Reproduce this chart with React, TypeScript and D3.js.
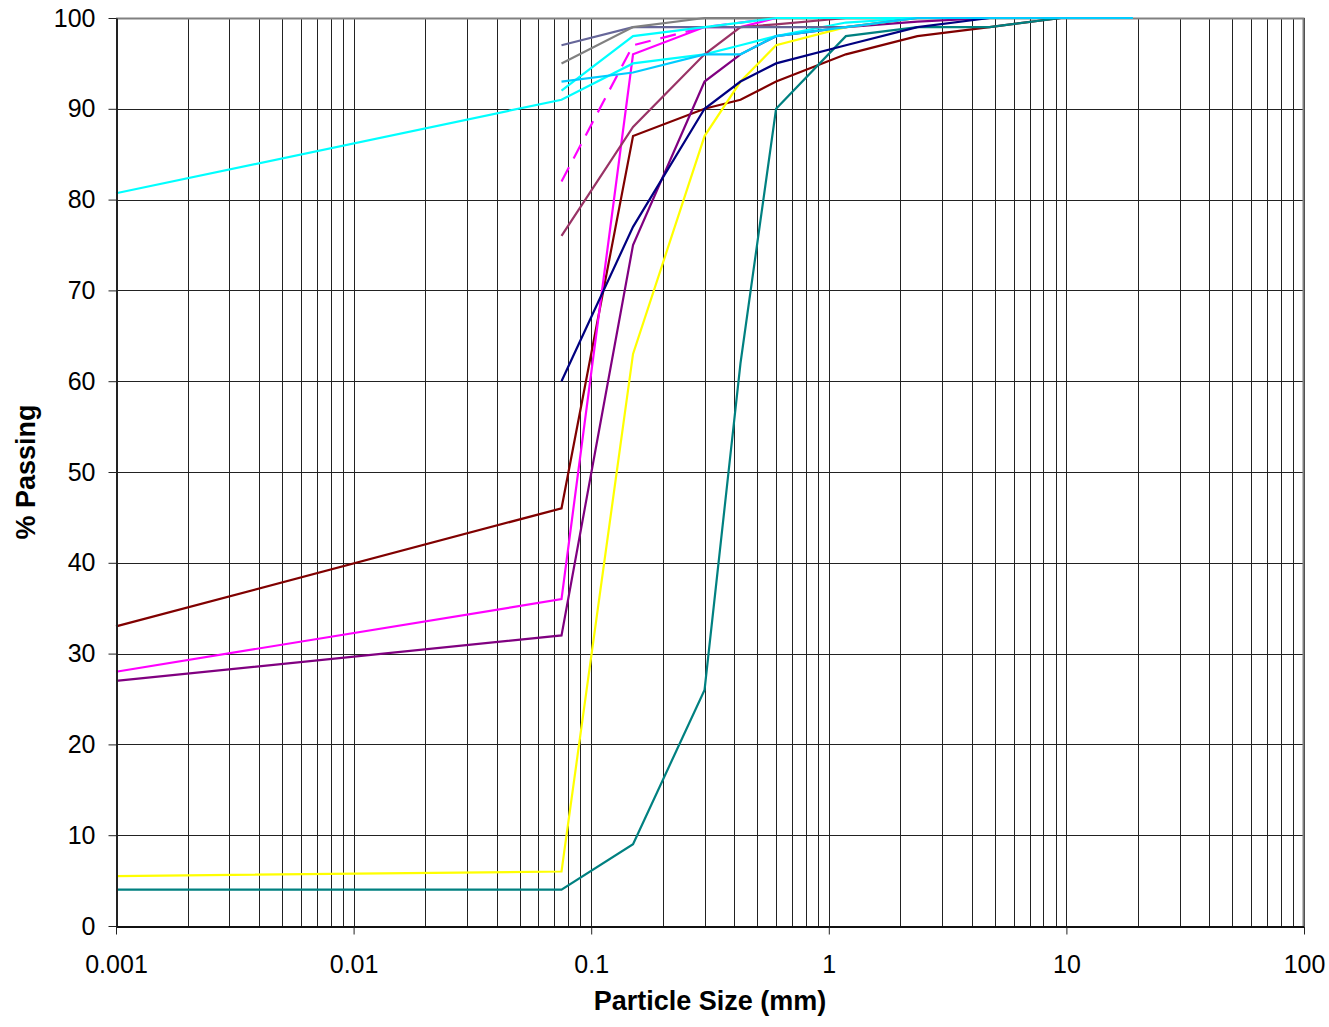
import React, { useEffect, useRef } from "react";
import * as d3 from "d3";

// sieve sizes in mm (0.001 is the hydrometer end of the curve)
const sizes = [0.001, 0.075, 0.15, 0.3, 0.425, 0.6, 1.18, 2.36, 4.75, 9.5, 19];

// % passing for each sample, null where the sample has no reading
const darkRed = [33, 46, 87, 90, 91, 93, 96, 98, 99, 100, 100];
const magenta = [28, 36, 96, 99, 99, 100, 100, 100, 100, 100, 100];
const purple = [27, 32, 75, 93, 96, 98, 99, 99.6, 100, 100, 100];
const yellow = [5.5, 6, 63, 87, 93, 97, 99, 100, 100, 100, 100];
const teal = [4, 4, 9, 26, 62, 90, 98, 99, 99, 100, 100];
const cyanFine = [80.7, 91, 95, 96, 97, 98, 99.5, 100, 100, 100, 100];
const navy = [null, 60, 77, 90, 93, 95, 97, 99, 100, 100, 100];
const plum = [null, 76, 88, 96, 99, 99.3, 100, 100, 100, 100, 100];
const magentaDash = [null, 82, 97, 99, 99.5, 100, 100, 100, 100, 100, 100];
const slate = [null, 97, 99, 99, 99, 99, 99, 100, 100, 100, 100];
const gray = [null, 95, 99, 100, 100, 100, 100, 100, 100, 100, 100];
const cyan = [null, 92, 98, 99, 99.5, 100, 100, 100, 100, 100, 100];
const skyBlue = [null, 93, 94, 96, 96, 98, 99, 100, 100, 100, 100];

const series = [
  { name: "S1", values: darkRed, color: "#800000" },
  { name: "S2", values: magenta, color: "#FF00FF" },
  { name: "S3", values: purple, color: "#800080" },
  { name: "S4", values: yellow, color: "#FFFF00" },
  { name: "S5", values: teal, color: "#008080" },
  { name: "S6", values: cyanFine, color: "#00FFFF" },
  { name: "S7", values: navy, color: "#000080" },
  { name: "S8", values: plum, color: "#993366" },
  { name: "S9", values: magentaDash, color: "#FF00FF", dash: "16,10" },
  { name: "S10", values: slate, color: "#666699" },
  { name: "S11", values: gray, color: "#808080" },
  { name: "S12", values: cyan, color: "#00FFFF" },
  { name: "S13", values: skyBlue, color: "#00CCFF" },
];

const xTicks = [0.001, 0.01, 0.1, 1, 10, 100];
const xTickLabels = ["0.001", "0.01", "0.1", "1", "10", "100"];
const yTicks = [0, 10, 20, 30, 40, 50, 60, 70, 80, 90, 100];

const FONT = "Arial, 'Liberation Sans', Helvetica, sans-serif";

function App() {
  const ref = useRef(null);

  useEffect(() => {
    const svg = d3.select(ref.current);
    svg.selectAll("*").remove();

    const left = 116, right = 1304, top = 18, bottom = 926;
    const x = d3.scaleLog().domain([0.001, 100]).range([left, right]);
    const y = d3.scaleLinear().domain([0, 100]).range([bottom, top]);
    const px = v => Math.round(v) + 0.5;

    // minor + major vertical grid (1..9 per decade)
    const vGrid = [];
    for (let e = -3; e <= 1; e++) {
      for (let m = 1; m <= 9; m++) vGrid.push(m * Math.pow(10, e));
    }
    vGrid.push(100);

    const grid = svg.append("g");
    grid.selectAll(".vg").data(vGrid).join("line").attr("class", "vg")
      .attr("x1", d => px(x(d))).attr("x2", d => px(x(d)))
      .attr("y1", top).attr("y2", bottom)
      .attr("stroke", "#222").attr("stroke-width", 1);
    grid.selectAll(".hg").data(yTicks).join("line").attr("class", "hg")
      .attr("x1", left).attr("x2", right)
      .attr("y1", d => px(y(d))).attr("y2", d => px(y(d)))
      .attr("stroke", "#222").attr("stroke-width", 1);

    // plot border top/right
    svg.append("path")
      .attr("d", `M${left},${top + 0.5}H${right - 0.5}V${bottom}`)
      .attr("fill", "none").attr("stroke", "#808080").attr("stroke-width", 2);

    // curves
    const line = d3.line()
      .defined(d => d[1] != null)
      .x(d => x(d[0]))
      .y(d => y(d[1]));

    svg.append("g").selectAll("path").data(series).join("path")
      .attr("fill", "none")
      .attr("stroke", d => d.color)
      .attr("stroke-width", 2.2)
      .attr("stroke-dasharray", d => d.dash || null)
      .attr("stroke-linejoin", "miter")
      .attr("d", d => line(sizes.map((s, i) => [s, d.values[i]]).filter(p => p[1] != null)));

    // axes
    const yAxis = svg.append("g").attr("transform", `translate(${left + 0.5},0)`)
      .call(d3.axisLeft(y).tickValues(yTicks).tickSize(8).tickPadding(13).tickSizeOuter(0));
    yAxis.select(".domain").attr("stroke", "#222").attr("stroke-width", 2);
    yAxis.selectAll(".tick line").attr("stroke", "#222");
    yAxis.selectAll("text").attr("font-family", FONT).attr("font-size", 25).attr("fill", "#000");

    const xAxis = svg.append("g").attr("transform", `translate(0,${bottom + 0.5})`)
      .call(d3.axisBottom(x).tickValues(xTicks).tickSize(8).tickPadding(21).tickSizeOuter(0)
        .tickFormat((d, i) => xTickLabels[i]));
    xAxis.select(".domain").attr("stroke", "#111").attr("stroke-width", 2);
    xAxis.selectAll(".tick line").attr("stroke", "#222");
    xAxis.selectAll("text").attr("font-family", FONT).attr("font-size", 25).attr("fill", "#000");

    // axis titles
    svg.append("text")
      .attr("x", (left + right) / 2).attr("y", 1010)
      .attr("text-anchor", "middle")
      .attr("font-family", FONT).attr("font-size", 27).attr("font-weight", "bold")
      .text("Particle Size (mm)");
    svg.append("text")
      .attr("transform", `translate(35,${(top + bottom) / 2}) rotate(-90)`)
      .attr("text-anchor", "middle")
      .attr("font-family", FONT).attr("font-size", 27).attr("font-weight", "bold")
      .text("% Passing");
  }, []);

  return (
    <svg ref={ref} width={1329} height={1027}
      style={{ position: "absolute", left: 0, top: 0, background: "#fff" }} />
  );
}

export default App;
